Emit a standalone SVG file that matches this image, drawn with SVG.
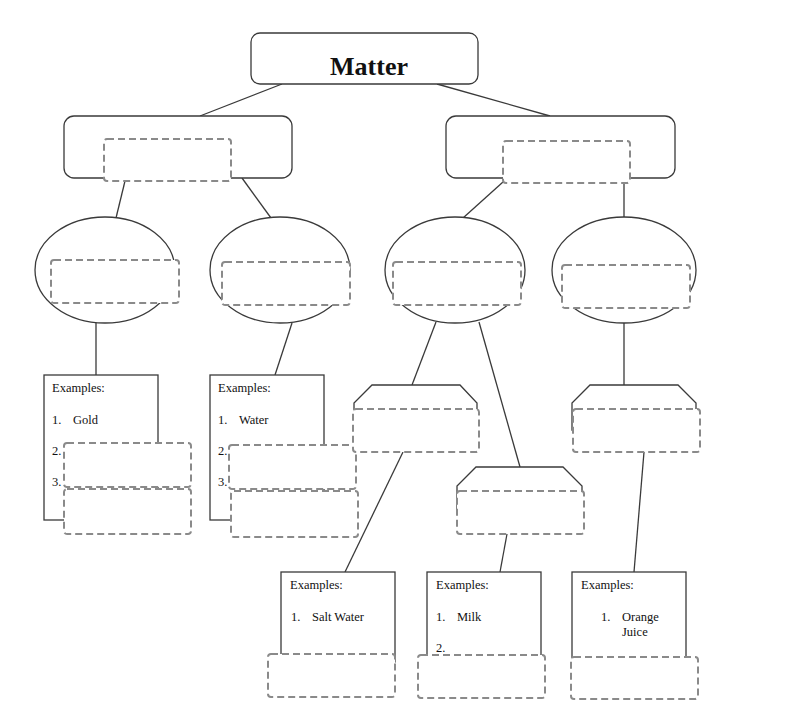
<svg xmlns="http://www.w3.org/2000/svg" width="800" height="713" viewBox="0 0 800 713">
<style>
.solid{fill:#fff;stroke:#3a3a3a;stroke-width:1.3}
.dash{fill:#fff;stroke:#8a8a8a;stroke-width:2;stroke-dasharray:7,4}
.conn{stroke:#3a3a3a;stroke-width:1.3;fill:none}
.t{font-family:"Liberation Serif","Times New Roman",serif;font-size:12.5px;fill:#111}
.title{font-family:"Liberation Serif","Times New Roman",serif;font-size:26px;font-weight:bold;fill:#111}
</style>
<rect width="800" height="713" fill="#fff"/>
<g id="connectors">
<line class="conn" x1="282" y1="84" x2="200" y2="116"/>
<line class="conn" x1="437" y1="84" x2="550" y2="116"/>
<line class="conn" x1="125" y1="181" x2="116" y2="218"/>
<line class="conn" x1="242" y1="178" x2="271" y2="218"/>
<line class="conn" x1="503" y1="182" x2="463" y2="218"/>
<line class="conn" x1="624" y1="183" x2="624" y2="217"/>
<line class="conn" x1="96" y1="323" x2="96" y2="375"/>
<line class="conn" x1="292" y1="323" x2="275" y2="375"/>
<line class="conn" x1="436" y1="322" x2="412" y2="385"/>
<line class="conn" x1="479" y1="322" x2="520" y2="467"/>
<line class="conn" x1="624" y1="323" x2="624" y2="385"/>
<line class="conn" x1="403" y1="452" x2="345" y2="572"/>
<line class="conn" x1="507" y1="534" x2="500" y2="572"/>
<line class="conn" x1="644" y1="452" x2="634" y2="572"/>
</g>
<g id="matter">
<rect class="solid" x="251" y="33" width="227" height="51" rx="9"/>
<text class="title" x="369" y="75" text-anchor="middle">Matter</text>
</g>
<g id="left-category">
<rect class="solid" x="64" y="116" width="228" height="62" rx="10"/>
<rect class="dash" x="104" y="139" width="127" height="42" rx="3"/>
</g>
<g id="right-category">
<rect class="solid" x="446" y="116" width="229" height="62" rx="10"/>
<rect class="dash" x="503" y="141" width="127" height="42" rx="3"/>
</g>
<g id="ellipse1">
<ellipse class="solid" cx="105" cy="270" rx="70" ry="53"/>
<rect class="dash" x="51" y="260" width="128" height="43" rx="3"/>
</g>
<g id="ellipse2">
<ellipse class="solid" cx="280" cy="270" rx="70" ry="53"/>
<rect class="dash" x="222" y="262" width="128" height="43" rx="3"/>
</g>
<g id="ellipse3">
<ellipse class="solid" cx="455" cy="270" rx="70" ry="53"/>
<rect class="dash" x="393" y="262" width="128" height="43" rx="3"/>
</g>
<g id="ellipse4">
<ellipse class="solid" cx="624" cy="270" rx="72" ry="53"/>
<rect class="dash" x="562" y="265" width="128" height="43" rx="3"/>
</g>
<g id="examples1">
<rect class="solid" x="44" y="375" width="114" height="145"/>
<text class="t" x="52" y="392">Examples:</text>
<text class="t" x="52" y="424">1.</text>
<text class="t" x="73" y="424">Gold</text>
<text class="t" x="52" y="455">2.</text>
<text class="t" x="52" y="486">3.</text>
<rect class="dash" x="64" y="443" width="127" height="44" rx="3"/>
<rect class="dash" x="64" y="489" width="127" height="45" rx="3"/>
</g>
<g id="examples2">
<rect class="solid" x="210" y="375" width="114" height="145"/>
<text class="t" x="218" y="392">Examples:</text>
<text class="t" x="218" y="424">1.</text>
<text class="t" x="239" y="424">Water</text>
<text class="t" x="218" y="455">2.</text>
<text class="t" x="218" y="486">3.</text>
<rect class="dash" x="229" y="445" width="127" height="44" rx="3"/>
<rect class="dash" x="231" y="491" width="127" height="46" rx="3"/>
</g>
<g id="hex1">
<path class="solid" d="M354,430 V403 L372,385 H460 L477,403 V430 Z"/>
<rect class="dash" x="353" y="409" width="126" height="43" rx="3"/>
</g>
<g id="hex2">
<path class="solid" d="M457,512 V486 L476,467 H563 L582,486 V512 Z"/>
<rect class="dash" x="457" y="491" width="127" height="43" rx="3"/>
</g>
<g id="hex3">
<path class="solid" d="M572,430 V403 L590,385 H678 L696,403 V430 Z"/>
<rect class="dash" x="573" y="409" width="127" height="43" rx="3"/>
</g>
<g id="examples3">
<rect class="solid" x="281" y="572" width="114" height="90"/>
<text class="t" x="290" y="589">Examples:</text>
<text class="t" x="291" y="621">1.</text>
<text class="t" x="312" y="621">Salt Water</text>
<rect class="dash" x="268" y="654" width="127" height="43" rx="3"/>
</g>
<g id="examples4">
<rect class="solid" x="427" y="572" width="114" height="90"/>
<text class="t" x="436" y="589">Examples:</text>
<text class="t" x="436" y="621">1.</text>
<text class="t" x="457" y="621">Milk</text>
<text class="t" x="436" y="652">2.</text>
<rect class="dash" x="418" y="655" width="127" height="43" rx="3"/>
</g>
<g id="examples5">
<rect class="solid" x="572" y="572" width="114" height="90"/>
<text class="t" x="581" y="589">Examples:</text>
<text class="t" x="601" y="621">1.</text>
<text class="t" x="622" y="621">Orange</text>
<text class="t" x="622" y="636">Juice</text>
<rect class="dash" x="571" y="657" width="127" height="42" rx="3"/>
</g>
</svg>
